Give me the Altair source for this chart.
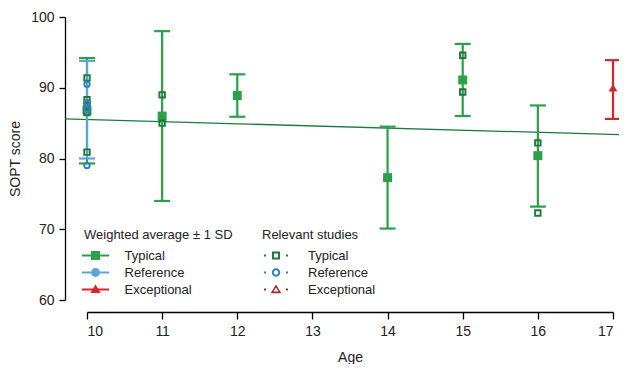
import altair as alt
import pandas as pd

# ---------------- data ----------------
groups = ["Typical", "Reference", "Exceptional"]
avg_colors = ["#2ca048", "#5aa6d6", "#d7262b"]
study_colors = ["#1f7a3a", "#2f7fc1", "#a8262b"]

# weighted average ± 1 SD
avg_group = ["Typical", "Reference", "Typical", "Typical", "Typical", "Typical", "Typical", "Exceptional"]
avg_age = [10, 10, 11, 12, 14, 15, 16, 17]
avg_mean = [86.8, 86.9, 86.0, 88.9, 77.3, 91.1, 80.4, 90.0]
avg_low = [79.3, 80.0, 74.0, 85.9, 70.1, 86.0, 73.2, 85.6]
avg_high = [94.2, 93.8, 98.0, 91.9, 84.5, 96.2, 87.5, 93.9]

# relevant studies
study_group = ["Typical"] * 5 + ["Reference"] * 4 + ["Typical"] * 6
study_age = [10, 10, 10, 10, 10, 10, 10, 10, 10, 11, 11, 15, 15, 16, 16]
study_score = [91.4, 88.3, 87.5, 86.5, 80.9, 90.5, 87.9, 86.9, 79.0,
               89.0, 85.0, 94.6, 89.4, 82.2, 72.3]

# regression trend line
trend_age = [9.71, 17.16]
trend_score = [85.6, 83.35]

# legend symbols (custom paths)
avg_paths = [
    "M-1.93,-0.16H1.93V0.16H-1.93Z M-0.64,-0.64H0.64V0.64H-0.64Z",
    "M-1.93,-0.16H1.93V0.16H-1.93Z M-0.64,0A0.64,0.64 0 1,1 0.64,0A0.64,0.64 0 1,1 -0.64,0Z",
    "M-1.93,-0.16H1.93V0.16H-1.93Z M0,-0.72L0.74,0.5H-0.74Z",
]
dots = "M-1.71,-0.14H-1.43V0.14H-1.71Z M1.43,-0.14H1.71V0.14H1.43Z "
study_paths = [
    dots + "M-0.57,-0.57H0.57V0.57H-0.57Z M-0.29,-0.29V0.29H0.29V-0.29Z",
    dots + "M-0.6,0A0.6,0.6 0 1,1 0.6,0A0.6,0.6 0 1,1 -0.6,0Z M-0.32,0A0.32,0.32 0 1,0 0.32,0A0.32,0.32 0 1,0 -0.32,0Z",
    dots + "M0,-0.72L0.76,0.55H-0.76Z M0,-0.28L-0.36,0.3H0.36Z",
]

avg_df = pd.DataFrame({"group": avg_group, "age": avg_age, "score": avg_mean,
                       "low": avg_low, "high": avg_high})
study_df = pd.DataFrame({"group": study_group, "age": study_age, "score": study_score})
trend_df = pd.DataFrame({"age": trend_age, "score": trend_score})

FONT = "Liberation Sans"

x_axis = alt.Axis(values=list(range(10, 18)), offset=12, title="Age", tickSize=7,
                  labelPadding=5, titlePadding=12, format="d")
y_axis = alt.Axis(values=[60, 70, 80, 90, 100], offset=22, title="SOPT score",
                  tickSize=6, labelPadding=5, titlePadding=8)
x_scale = alt.Scale(domain=[10, 17], nice=False, padding=0)
y_scale = alt.Scale(domain=[60, 100], nice=False, zero=False, padding=0)


def X(field="age"):
    return alt.X(f"{field}:Q", scale=x_scale, axis=x_axis)


def Y(field):
    return alt.Y(f"{field}:Q", scale=y_scale, axis=y_axis)


avg_color_scale = alt.Scale(domain=groups, range=avg_colors)
study_color_scale = alt.Scale(domain=groups, range=study_colors)

# trend line
trend = alt.Chart(trend_df).mark_line(color="#1b7a3b", strokeWidth=1.3).encode(
    x=X(), y=Y("score"))

# error bars
bars = alt.Chart(avg_df).mark_rule(strokeWidth=2.2, opacity=1).encode(
    x=X(), y=Y("low"), y2="high:Q",
    color=alt.Color("group:N", scale=avg_color_scale, legend=None))
caps_hi = alt.Chart(avg_df).mark_tick(orient="horizontal", size=16, thickness=2.2, opacity=1).encode(
    x=X(), y=Y("high"),
    color=alt.Color("group:N", scale=avg_color_scale, legend=None))
caps_lo = alt.Chart(avg_df).mark_tick(orient="horizontal", size=16, thickness=2.2, opacity=1).encode(
    x=X(), y=Y("low"),
    color=alt.Color("group:N", scale=avg_color_scale, legend=None))

# weighted average markers
avg_pts = alt.Chart(avg_df).mark_point(filled=True, opacity=1, size=80).encode(
    x=X(), y=Y("score"),
    color=alt.Color("group:N", scale=avg_color_scale, legend=None),
    shape=alt.Shape("group:N", scale=alt.Scale(domain=groups,
                    range=["square", "circle", "triangle-up"]), legend=None))

# study markers (hollow)
study_pts = alt.Chart(study_df).mark_point(filled=False, opacity=1, size=30, strokeWidth=1.9).encode(
    x=X(), y=Y("score"),
    color=alt.Color("group:N", scale=study_color_scale, legend=None),
    shape=alt.Shape("group:N", scale=alt.Scale(domain=groups,
                    range=["square", "circle", "triangle-up"]), legend=None))

common_leg = dict(orient="none", padding=0, symbolSize=196, symbolStrokeWidth=0,
                  symbolOpacity=1, rowPadding=3, titlePadding=7, titleFontSize=13,
                  titleFontWeight="normal", labelFontSize=13, titleFont=FONT,
                  labelFont=FONT, titleColor="#222", labelColor="#222", legendY=211.5)

leg1 = alt.Legend(title="Weighted average ± 1 SD", legendX=-3, symbolOffset=4.5,
                  labelOffset=22, **common_leg)
leg2 = alt.Legend(title="Relevant studies", legendX=175, symbolOffset=7,
                  labelOffset=25, **common_leg)

legend_avg = alt.Chart(avg_df).mark_point(filled=True, opacity=0).encode(
    x=X(), y=Y("score"),
    color=alt.Color("group:N", scale=avg_color_scale, legend=leg1),
    shape=alt.Shape("group:N", scale=alt.Scale(domain=groups, range=avg_paths), legend=leg1))

legend_study = alt.Chart(study_df).mark_point(filled=True, opacity=0).encode(
    x=X(), y=Y("score"),
    color=alt.Color("group:N", scale=study_color_scale, legend=leg2),
    shape=alt.Shape("group:N", scale=alt.Scale(domain=groups, range=study_paths), legend=leg2))

chart = alt.layer(
    trend, bars, caps_hi, caps_lo, avg_pts, study_pts, legend_avg, legend_study
).resolve_scale(
    color="independent", shape="independent"
).properties(
    width=526, height=283,
    autosize=alt.AutoSizeParams(type="none"),
    padding={"left": 79, "top": 9, "right": 6, "bottom": 64},
).configure_view(
    stroke=None
).configure_axis(
    labelFont=FONT, titleFont=FONT, labelFontSize=14, titleFontSize=14,
    titleFontWeight="normal", domainColor="black", tickColor="black",
    labelColor="#222", titleColor="#222", grid=False, domainWidth=1.3, tickWidth=1.3,
)

chart.save("out.html", embed_options={"renderer": "svg", "actions": False})
